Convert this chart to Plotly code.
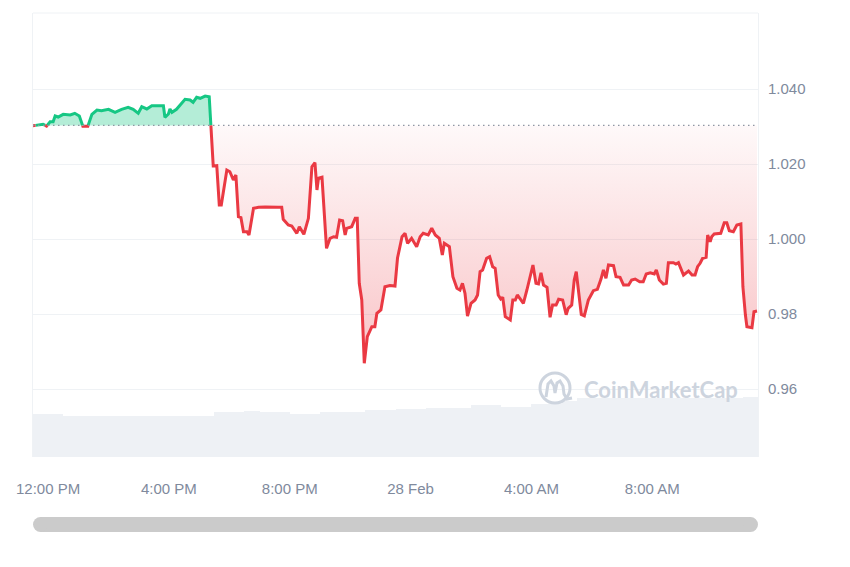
import datetime as dt
import plotly.graph_objects as go

# ---------------- data ----------------
start_time = dt.datetime(2025, 2, 27, 11, 30)
end_time = dt.datetime(2025, 2, 28, 11, 30)

# minutes after 11:30 AM (27 Feb) of each price sample
price_minutes = [
    0, 20, 27, 34, 40, 44, 50, 60, 74, 83, 92, 99, 109, 117, 127, 136, 150, 163, 176, 189,
    199, 209, 216, 226, 236, 259, 262, 269, 272, 276, 285, 295, 302, 312, 318, 325, 332, 342, 350,
    358, 365, 370, 374, 385, 391, 398, 403, 408, 413, 418, 425, 429, 438, 448, 461, 475, 487, 494,
    497, 507, 514, 524, 529, 538, 547, 554, 560, 564, 567, 574, 583, 590, 597, 603, 609, 615, 620,
    623, 633, 640, 644, 648, 653, 658, 664, 673, 679, 683, 691, 699, 709, 719, 724, 733, 739, 744,
    752, 762, 769, 775, 785, 792, 799, 807, 813, 817, 827, 834, 842, 848, 853, 858, 863, 870, 878,
    883, 888, 893, 901, 907, 913, 918, 924, 929, 933, 938, 944, 948, 953, 958, 962, 969, 974, 981,
    986, 993, 999, 1004, 1009, 1014, 1021, 1027, 1032, 1039, 1044, 1052, 1059, 1063, 1070, 1075,
    1079, 1083, 1089, 1095, 1103, 1113, 1121, 1128, 1133, 1138, 1143, 1153, 1158, 1166, 1173, 1183,
    1189, 1196, 1205, 1212, 1218, 1226, 1234, 1238, 1244, 1252, 1258, 1262, 1272, 1277, 1282, 1292,
    1302, 1309, 1315, 1320, 1325, 1330, 1337, 1340, 1345, 1348, 1353, 1366, 1373, 1378, 1383, 1391,
    1398, 1406, 1410, 1415, 1418, 1428, 1432, 1438,
]
prices = [
    1.0302, 1.0306, 1.0301, 1.03128, 1.03128, 1.0328, 1.03253, 1.03325, 1.03307, 1.03352, 1.0328,
    1.0301, 1.0301, 1.03325, 1.0344, 1.03421, 1.03459, 1.03379, 1.03459, 1.03512, 1.03459, 1.03352,
    1.03528, 1.03467, 1.03555, 1.03555, 1.03245, 1.03333, 1.03467, 1.03379, 1.03459, 1.03619,
    1.03725, 1.03707, 1.03645, 1.03779, 1.03752, 1.03813, 1.03795,
    1.01947, 1.01955, 1.00907, 1.00907, 1.0184, 1.01795, 1.01573, 1.01707, 1.00595, 1.00568,
    1.00195, 1.00195, 1.00107, 1.00819, 1.00845, 1.00853, 1.0084, 1.00845, 1.00845, 1.00525,
    1.00373, 1.00347, 1.00152, 1.00328, 1.00125, 1.00552, 1.01928, 1.02035, 1.01307, 1.01619,
    1.01645, 0.99752, 1.00019, 1.00061, 1.00045, 1.00507, 1.00488, 1.00107, 1.00285, 1.00328,
    1.00552, 1.00552, 0.98819, 0.98373, 0.96685, 0.97395, 0.97661, 0.97661, 0.98019, 0.98107,
    0.98728, 0.9876, 0.98747, 0.99493, 1.00061, 1.00152, 0.99885, 1.00019, 0.99795, 1.00061,
    1.00152, 1.00107, 1.00285, 1.00107, 1.00019, 0.99573, 0.99885, 0.99795, 0.98995, 0.98685,
    0.9864, 0.98819, 0.98552, 0.97947, 0.98285, 0.98373, 0.98507, 0.99128, 0.99173, 0.99485,
    0.99528, 0.99261, 0.99219, 0.98507, 0.984, 0.98445, 0.97928, 0.97885, 0.9784, 0.98373, 0.98373,
    0.98507, 0.98392, 0.98285, 0.9864, 0.98907, 0.99307, 0.98819, 0.988, 0.99101, 0.98773, 0.98712,
    0.97912, 0.9824, 0.9824, 0.98392, 0.98373, 0.97981, 0.98152, 0.9824, 0.98907, 0.99128, 0.9864,
    0.97987, 0.97952, 0.98373, 0.98621, 0.98659, 0.98925, 0.99173, 0.98952, 0.99307, 0.99288,
    0.98995, 0.98979, 0.98773, 0.98773, 0.98907, 0.98933, 0.98861, 0.98861, 0.99067, 0.99101,
    0.99067, 0.99173, 0.98907, 0.988, 0.98819, 0.99368, 0.99368, 0.99333, 0.99368, 0.9904, 0.99147,
    0.9904, 0.9904, 0.99261, 0.99352, 0.99485, 0.99512, 1.00107, 0.99928, 1.00061, 1.00133,
    1.00152, 1.00435, 1.00435, 1.00221, 1.00195, 1.00373, 1.004, 0.98728, 0.97973, 0.97661,
    0.97635, 0.98061, 0.9808,
]
open_price = 1.0303

# 30-minute volume bars (minutes after 11:30 AM, bar centre) and relative volume
volume_minutes = [
    15, 45, 75, 105, 135, 165, 195, 225, 255, 285, 315, 345, 375, 405, 435, 465,
    495, 525, 555, 585, 615, 645, 675, 705, 735, 765, 795, 825, 855, 885, 915, 945,
    975, 1005, 1035, 1065, 1095, 1125, 1155, 1185, 1215, 1245, 1275, 1305, 1335, 1365, 1395, 1425,
]
volumes = [
    43.4, 43.4, 41.0, 40.7, 40.7, 40.7, 40.7, 40.7, 40.7, 40.7, 40.7, 40.7,
    45.0, 45.0, 46.0, 45.4, 45.4, 42.7, 42.7, 45.4, 45.4, 45.4, 46.7, 46.7,
    47.7, 47.7, 48.7, 48.7, 48.7, 52.0, 52.0, 50.0, 50.0, 53.4, 53.4, 56.0,
    58.7, 58.7, 58.7, 58.7, 58.7, 58.7, 58.7, 58.7, 58.7, 58.7, 58.7, 60.0,
]

x_tick_times = ["2025-02-27 12:00", "2025-02-27 16:00", "2025-02-27 20:00",
                "2025-02-28 00:00", "2025-02-28 04:00", "2025-02-28 08:00"]
x_tick_labels = ["12:00 PM", "4:00 PM", "8:00 PM", "28 Feb", "4:00 AM", "8:00 AM"]
y_tick_values = [0.96, 0.98, 1.00, 1.02, 1.04]
y_tick_labels = ["0.96", "0.98", "1.000", "1.020", "1.040"]

# ---------------- styling ----------------
GREEN = "#16c784"
RED = "#ea3943"
GRID = "#eff2f5"
TICK = "#808a9d"
FONT = "Liberation Sans, Arial, sans-serif"

PAGE_OFFSET = 8  # default body margin of the html page
W, H = 850 - PAGE_OFFSET, 567 - PAGE_OFFSET
ML, MR, MT, MB = 33 - PAGE_OFFSET, 92, 13 - PAGE_OFFSET, 110
PW, PH = W - ML - MR, H - MT - MB
PLOT_LEFT_PX, PLOT_BOTTOM_PX = 33, 457  # screen pixel positions of the plot corner


def px_x(p):
    return (p - PLOT_LEFT_PX) / PW


def px_y(p):
    return (PLOT_BOTTOM_PX - p) / PH


# insert exact baseline crossings so the colours switch cleanly
seg_min, seg_val = [], []
for i, (m, v) in enumerate(zip(price_minutes, prices)):
    if i > 0:
        m0, v0 = price_minutes[i - 1], prices[i - 1]
        if (v0 - open_price) * (v - open_price) < 0:
            f = (open_price - v0) / (v - v0)
            seg_min.append(m0 + f * (m - m0))
            seg_val.append(open_price)
    seg_min.append(m)
    seg_val.append(v)

times = [start_time + dt.timedelta(minutes=m) for m in seg_min]
base_line = [open_price] * len(times)
upper = [max(v, open_price) for v in seg_val]
lower = [min(v, open_price) for v in seg_val]
eps = 1e-9
green_line = [v if v >= open_price - eps else None for v in seg_val]
red_line = [v if v <= open_price + eps else None for v in seg_val]

vol_times = [start_time + dt.timedelta(minutes=m) for m in volume_minutes]

fig = go.Figure()

fig.add_trace(go.Bar(
    x=vol_times, y=volumes, yaxis="y2", width=30 * 60 * 1000,
    marker=dict(color="#eef1f5", line=dict(width=0)),
    hoverinfo="skip", showlegend=False,
))

fig.add_trace(go.Scatter(x=times, y=base_line, mode="lines", line=dict(width=0),
                         hoverinfo="skip", showlegend=False))
fig.add_trace(go.Scatter(x=times, y=upper, mode="lines", line=dict(width=0),
                         fill="tonexty", fillcolor="rgba(22,199,132,0.32)",
                         hoverinfo="skip", showlegend=False))
fig.add_trace(go.Scatter(x=times, y=base_line, mode="lines", line=dict(width=0),
                         hoverinfo="skip", showlegend=False))
fig.add_trace(go.Scatter(x=times, y=lower, mode="lines", line=dict(width=0),
                         fill="tonexty",
                         fillgradient=dict(type="vertical",
                                           colorscale=[[0, "rgba(234,57,67,0.30)"],
                                                       [1, "rgba(234,57,67,0.03)"]]),
                         hoverinfo="skip", showlegend=False))

fig.add_trace(go.Scatter(x=times, y=green_line, mode="lines",
                         line=dict(color=GREEN, width=3), connectgaps=False,
                         hoverinfo="skip", showlegend=False))
fig.add_trace(go.Scatter(x=times, y=red_line, mode="lines",
                         line=dict(color=RED, width=3), connectgaps=False,
                         hoverinfo="skip", showlegend=False))

shapes = [
    # dotted opening-price line
    dict(type="line", xref="paper", x0=0, x1=1, yref="y", y0=open_price, y1=open_price,
         line=dict(color="#8f96a3", width=1.3, dash="1.5px,3.5px"), layer="above"),
    # top border
    dict(type="line", xref="paper", yref="paper", x0=0, x1=1, y0=1, y1=1,
         line=dict(color=GRID, width=1)),
    # scrollbar
    dict(type="rect", xref="paper", yref="paper",
         x0=px_x(40.5), x1=px_x(750.5), y0=px_y(532), y1=px_y(517),
         fillcolor="#cbcbcb", line=dict(width=0)),
    dict(type="circle", xref="paper", yref="paper",
         x0=px_x(33), x1=px_x(48), y0=px_y(532), y1=px_y(517),
         fillcolor="#cbcbcb", line=dict(width=0)),
    dict(type="circle", xref="paper", yref="paper",
         x0=px_x(743), x1=px_x(758), y0=px_y(532), y1=px_y(517),
         fillcolor="#cbcbcb", line=dict(width=0)),
    # watermark logo circle
    dict(type="circle", xref="paper", yref="paper",
         x0=px_x(540), x1=px_x(570), y0=px_y(403), y1=px_y(373),
         line=dict(color="#cdd4de", width=3)),
]
wave = [(546, 397), (548, 384), (551, 381), (554, 386), (555, 393), (557, 383), (560, 381),
        (563, 386), (564, 394), (567, 399), (572, 398)]
path = "M " + " L ".join(f"{px_x(a):.5f},{px_y(b):.5f}" for a, b in wave)
shapes.append(dict(type="path", xref="paper", yref="paper", path=path,
                   line=dict(color="#cdd4de", width=3)))

fig.update_layout(
    width=W, height=H,
    margin=dict(l=ML, r=MR, t=MT, b=MB),
    paper_bgcolor="white", plot_bgcolor="white",
    showlegend=False, bargap=0,
    font=dict(family=FONT, size=15, color=TICK),
    xaxis=dict(type="date", range=[start_time, end_time],
               tickvals=x_tick_times, ticktext=x_tick_labels,
               showgrid=False, zeroline=False, showline=False, ticks="",
               ticklabelstandoff=21, tickfont=dict(family=FONT, size=15, color=TICK),
               fixedrange=True),
    yaxis=dict(side="right", range=[0.941867, 1.060267],
               tickvals=y_tick_values, ticktext=y_tick_labels,
               showgrid=True, gridcolor=GRID, gridwidth=1, zeroline=False,
               showline=True, mirror=True, linecolor=GRID, linewidth=1, ticks="",
               ticklabelstandoff=6, tickfont=dict(family=FONT, size=15, color=TICK),
               fixedrange=True),
    yaxis2=dict(overlaying="y", range=[0, PH], visible=False, fixedrange=True),
    shapes=shapes,
    annotations=[dict(text="CoinMarketCap", xref="paper", yref="paper",
                      x=px_x(582), y=px_y(389), xanchor="left", yanchor="middle",
                      showarrow=False,
                      font=dict(family="Lato, Noto Sans, sans-serif", size=22,
                                color="#cdd4de", weight="bold"))],
)

fig.write_html("out.html", config={"displayModeBar": False, "staticPlot": True})
